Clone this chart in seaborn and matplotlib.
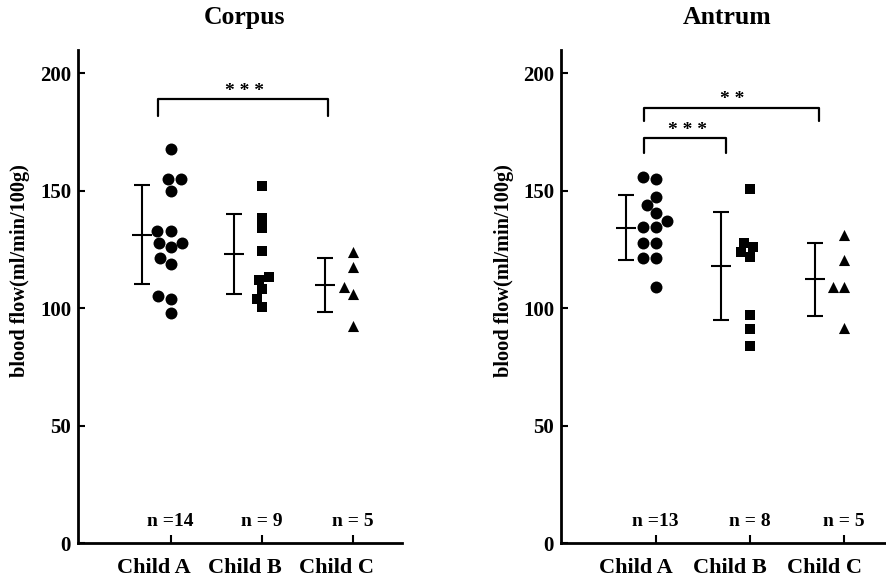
import matplotlib
matplotlib.use("Agg")
import matplotlib.pyplot as plt
import matplotlib.transforms as mtransforms
import numpy as np
import pandas as pd
import seaborn as sns

GROUPS = ["Child A", "Child B", "Child C"]

corpus_a = [168, 155, 155, 150, 133, 133, 128, 128, 126, 121.5, 119, 105, 104, 98]
corpus_b = [152, 138.5, 134, 124.5, 113.5, 112, 108, 104, 100.5]
corpus_c = [124, 117.5, 109, 106, 92.5]
corpus_mean = [131.3, 123.1, 109.9]
corpus_sd = [21.1, 17.2, 11.7]

antrum_a = [156, 155, 147.5, 144, 140.5, 137, 134.5, 134.5, 128, 128, 121.5, 121.5, 109]
antrum_b = [151, 128, 126, 124, 122, 97, 91, 84]
antrum_c = [131, 120.5, 109, 109, 91.5]
antrum_mean = [134.3, 117.9, 112.3]
antrum_sd = [13.8, 23.0, 15.4]

MARKERS = {"Child A": ("o", 8.6), "Child B": ("s", 7.0), "Child C": ("^", 8.0)}

sns.set_style("ticks")
plt.rcParams["font.family"] = ["Liberation Serif", "DejaVu Serif"]
plt.rcParams["font.weight"] = "bold"
for key in ["text.color", "axes.labelcolor", "xtick.color", "ytick.color", "axes.edgecolor"]:
    plt.rcParams[key] = "black"


def build_frame(a, b, c):
    rows = [(GROUPS[0], v) for v in a] + [(GROUPS[1], v) for v in b] + [(GROUPS[2], v) for v in c]
    return pd.DataFrame(rows, columns=["group", "flow"])


def bracket(ax, x0, x1, y, drop, stars, star_x):
    ax.plot([x0, x0, x1, x1], [y - drop, y, y, y - drop], color="black", lw=1.6, clip_on=False)
    ax.text(star_x, y + 3.2, stars, ha="center", va="center", fontsize=14, fontweight="bold")


def draw_panel(fig, ax, df, means, sds, title, counts, xlim, title_x, label_shift, ylabel_x):
    for group in GROUPS:
        marker, size = MARKERS[group]
        sns.swarmplot(
            data=df[df["group"] == group], x="group", y="flow", order=GROUPS,
            color="black", marker=marker, size=size, linewidth=0, ax=ax,
        )
    pos = np.arange(len(GROUPS)) - 0.31
    ax.errorbar(pos, means, yerr=sds, fmt="none", ecolor="black", elinewidth=1.5,
                capsize=6.1, capthick=1.5)
    ax.plot(pos, means, linestyle="none", marker="_", markersize=13.7, mew=1.5, color="black")

    for i, n in enumerate(counts):
        ax.text(i, 9, n, ha="center", va="center", fontsize=14, fontweight="bold")

    ax.set_xlim(*xlim)
    ax.set_ylim(0, 210)
    ax.set_yticks([0, 50, 100, 150, 200])
    ax.set_xticks(range(len(GROUPS)))
    ax.set_xticklabels(GROUPS, fontsize=16, fontweight="bold")
    ax.tick_params(axis="y", direction="in", length=5, width=1.5, labelsize=15, pad=5)
    ax.tick_params(axis="x", direction="in", length=6, width=1.5, pad=11)
    shift = mtransforms.ScaledTranslation(label_shift / 100, 0, fig.dpi_scale_trans)
    for label in ax.get_xticklabels():
        label.set_transform(label.get_transform() + shift)
    for label in ax.get_yticklabels():
        label.set_fontweight("bold")
    sns.despine(ax=ax)
    ax.spines["left"].set_linewidth(2)
    ax.spines["bottom"].set_linewidth(2)
    ax.set_xlabel("")
    ax.set_ylabel("blood flow(ml/min/100g)", fontsize=14.7, fontweight="bold")
    ax.yaxis.set_label_coords(ylabel_x, 0.553)
    ax.text(title_x, 1.065, title, transform=ax.transAxes, ha="center", va="center",
            fontsize=18.5, fontweight="bold")


fig = plt.figure(figsize=(8.87, 5.84), dpi=100)
ax_left = fig.add_axes([0.0879, 0.0702, 0.3653, 0.8442])
ax_right = fig.add_axes([0.6325, 0.0702, 0.3675, 0.8442])

draw_panel(fig, ax_left, build_frame(corpus_a, corpus_b, corpus_c), corpus_mean, corpus_sd,
           "Corpus", ["n =14", "n = 9", "n = 5"], (-1.015, 2.533), 0.515, -17, -0.148)
draw_panel(fig, ax_right, build_frame(antrum_a, antrum_b, antrum_c), antrum_mean, antrum_sd,
           "Antrum", ["n =13", "n = 8", "n = 5"], (-1.004, 2.453), 0.508, -20, -0.144)

bracket(ax_left, -0.14, 1.72, 189, 7, "* * *", 0.81)
bracket(ax_right, -0.12, 1.73, 185.5, 5.6, "* *", 0.81)
bracket(ax_right, -0.12, 0.745, 172.6, 6.5, "* * *", 0.34)

fig.savefig("out.png", dpi=100)
